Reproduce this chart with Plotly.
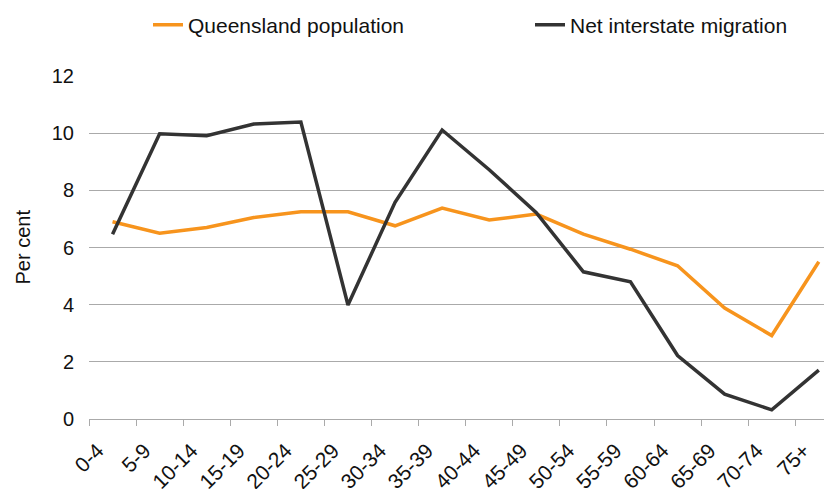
import plotly.graph_objects as go

age_groups = ["0-4", "5-9", "10-14", "15-19", "20-24", "25-29", "30-34", "35-39",
              "40-44", "45-49", "50-54", "55-59", "60-64", "65-69", "70-74", "75+"]
qld_population = [6.9, 6.5, 6.7, 7.05, 7.25, 7.25, 6.76, 7.38,
                  6.96, 7.17, 6.47, 5.94, 5.36, 3.88, 2.92, 5.5]
net_interstate = [6.46, 9.98, 9.91, 10.32, 10.39, 3.99, 7.58, 10.11,
                  8.72, 7.22, 5.15, 4.8, 2.22, 0.87, 0.32, 1.71]

FONT = "Liberation Sans, Arial, sans-serif"
TXT = "#111111"

W, H = 832, 489
ML, MT, MB, MR = 81, 68, 78, 0
PW = W - ML - MR

fig = go.Figure()
fig.add_trace(go.Scatter(x=age_groups, y=qld_population, mode="lines",
                         name="Queensland population", legend="legend",
                         line=dict(color="#F7941D", width=3.5)))
fig.add_trace(go.Scatter(x=age_groups, y=net_interstate, mode="lines",
                         name="Net interstate migration", legend="legend2",
                         line=dict(color="#333333", width=3.5)))

leg_common = dict(orientation="h", xref="container", yref="container",
                  yanchor="middle", xanchor="left",
                  font=dict(family=FONT, size=21, color=TXT),
                  bgcolor="rgba(0,0,0,0)", borderwidth=0)

fig.update_layout(
    width=W, height=H,
    margin=dict(l=ML, r=MR, t=MT, b=MB, autoexpand=False),
    paper_bgcolor="white", plot_bgcolor="white",
    font=dict(family=FONT, size=20, color=TXT),
    showlegend=True,
    legend=dict(x=140/W, y=1 - 17/H, **leg_common),
    legend2=dict(x=522/W, y=1 - 17/H, **leg_common),
    xaxis=dict(type="category", range=[-0.5, 15.45],
               tickson="boundaries", ticks="outside", ticklen=6,
               tickcolor="#AAAAAA", tickwidth=1.3,
               showline=True, linecolor="#AAAAAA", linewidth=1.3,
               showgrid=False, tickangle=-45, automargin=False,
               ticklabelshift=-15, ticklabelstandoff=10,
               tickfont=dict(family=FONT, size=21, color=TXT)),
    yaxis=dict(range=[0, 12], tickvals=[0, 2, 4, 6, 8, 10, 12],
               showgrid=True, gridcolor="#AAAAAA", gridwidth=1.3,
               zeroline=False, showline=False, ticks="",
               ticklabelstandoff=14, automargin=False,
               tickfont=dict(family=FONT, size=20, color=TXT)),
    annotations=[dict(text="Per cent", xref="paper", yref="paper",
                      x=(14 - ML) / PW, y=0.5, textangle=-90,
                      showarrow=False, xanchor="center", yanchor="middle",
                      font=dict(family=FONT, size=20, color=TXT))],
)

fig.write_html("out.html")
